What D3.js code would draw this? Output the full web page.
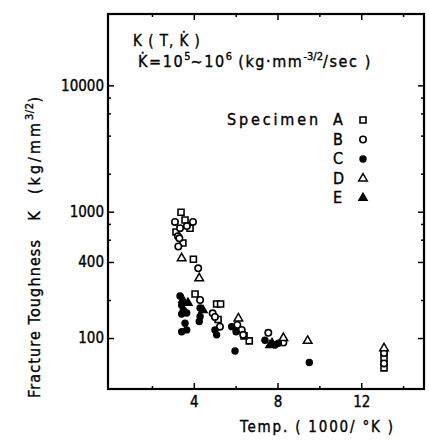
<!DOCTYPE html>
<html>
<head>
<meta charset="utf-8">
<script src="https://cdn.jsdelivr.net/npm/d3@7"></script>
<style>
body { margin: 0; background: #fff; }
text { font-family: "DejaVu Sans Condensed", "DejaVu Sans", sans-serif; fill: #000; stroke: #000; stroke-width: 0.35px; }
</style>
</head>
<body>
<script>
// data: [1000/T, K]
var specimenA = [[3.39,990],[3.58,860],[3.82,740],[3.15,690],[3.48,565],[3.98,420],[4.06,223],
  [5.09,186],[5.28,186],[5.16,140],[6.65,95],[6.4,104],[13.09,69],[13.09,58]];
var specimenB = [[3.1,830],[3.34,740],[3.67,770],[3.96,830],[3.24,640],[3.31,615],[3.26,530],
  [4.21,356],[4.30,200],[4.90,157],[5.01,147],[5.25,123],[6.08,127],[6.29,116],[6.36,106],
  [7.56,110],[8.28,92],[13.09,76],[13.09,63]];
var specimenC = [[3.34,215],[3.42,182],[3.50,166],[3.66,158],[3.42,155],[3.58,131],[3.42,112],
  [3.66,116],[4.30,173],[4.30,148],[4.26,135],[5.01,116],[5.09,106],[5.81,123],[6.02,112],
  [5.97,79],[7.40,96],[7.88,88],[8.04,91],[9.52,64]];
var specimenD = [[3.42,428],[4.26,297],[6.13,143],[8.28,100],[9.44,95],[13.09,83]];
var specimenE = [[3.48,200],[3.72,190],[4.44,166],[7.64,88],[7.74,91]];

var specimenNames = ["A","B","C","D","E"];
var xMajorTicks = [4, 8, 12];
var xMinorTicks = [2, 6, 10, 14];
var yLabelTicks = [100, 400, 1000, 10000];
var yMinorTicks = [200, 600, 800, 2000, 4000, 6000, 8000];

var W = 429, H = 440;
// plot frame (window.top is taken, so prefixed names)
var plotLeft = 108, plotRight = 424, plotTop = 14, plotBottom = 389;

var svg = d3.select("body").append("svg").attr("width", W).attr("height", H);

var x = d3.scaleLinear().domain([-0.1, 15]).range([plotLeft, plotRight]);
var y = d3.scaleLog().domain([39.5, 36700]).range([plotBottom, plotTop]);

// axes, ticks pointing inward on all sides
function styleAxis(g) {
  g.select(".domain").remove();
  g.selectAll("line").attr("stroke", "#000").attr("stroke-width", 1.5);
  g.selectAll("text").style("font-size", "15px").style("font-family", "'DejaVu Sans Condensed', sans-serif");
}

svg.append("g").attr("transform", "translate(0," + plotBottom + ")")
  .call(d3.axisBottom(x).tickValues(xMajorTicks).tickSize(-6).tickPadding(7).tickFormat(d3.format("d")))
  .call(styleAxis);
svg.append("g").attr("transform", "translate(0," + plotBottom + ")")
  .call(d3.axisBottom(x).tickValues(xMinorTicks).tickSize(-3).tickFormat(""))
  .call(styleAxis);
svg.append("g").attr("transform", "translate(0," + plotTop + ")")
  .call(d3.axisTop(x).tickValues(xMajorTicks).tickSize(-6).tickFormat(""))
  .call(styleAxis);
svg.append("g").attr("transform", "translate(0," + plotTop + ")")
  .call(d3.axisTop(x).tickValues(xMinorTicks).tickSize(-3).tickFormat(""))
  .call(styleAxis);

svg.append("g").attr("transform", "translate(" + plotLeft + ",0)")
  .call(d3.axisLeft(y).tickValues(yLabelTicks).tickSize(-6).tickPadding(4).tickFormat(d3.format("d")))
  .call(styleAxis);
svg.append("g").attr("transform", "translate(" + plotLeft + ",0)")
  .call(d3.axisLeft(y).tickValues(yMinorTicks).tickSize(-3).tickFormat(""))
  .call(styleAxis);
svg.append("g").attr("transform", "translate(" + plotRight + ",0)")
  .call(d3.axisRight(y).tickValues(yLabelTicks).tickSize(-6).tickFormat(""))
  .call(styleAxis);
svg.append("g").attr("transform", "translate(" + plotRight + ",0)")
  .call(d3.axisRight(y).tickValues(yMinorTicks).tickSize(-3).tickFormat(""))
  .call(styleAxis);

// frame
svg.append("rect")
  .attr("x", plotLeft).attr("y", plotTop)
  .attr("width", plotRight - plotLeft).attr("height", plotBottom - plotTop)
  .attr("fill", "none").attr("stroke", "#000").attr("stroke-width", 2.2);

// markers
var sq = d3.symbol().type(d3.symbolSquare).size(36)();
var tri = d3.symbol().type(d3.symbolTriangle).size(32)();

function drawMarker(g, name) {
  if (name == "A") g.append("path").attr("d", sq).attr("fill", "#fff").attr("stroke", "#000").attr("stroke-width", 1.6);
  if (name == "B") g.append("circle").attr("r", 3.2).attr("fill", "#fff").attr("stroke", "#000").attr("stroke-width", 1.6);
  if (name == "C") g.append("circle").attr("r", 3.7).attr("fill", "#000");
  if (name == "D") g.append("path").attr("d", tri).attr("fill", "#fff").attr("stroke", "#000").attr("stroke-width", 1.5);
  if (name == "E") g.append("path").attr("d", tri).attr("fill", "#000").attr("stroke", "#000").attr("stroke-width", 1.2);
}

var allSpecimens = [specimenA, specimenB, specimenC, specimenD, specimenE];
allSpecimens.forEach(function(pts, i) {
  pts.forEach(function(p) {
    var g = svg.append("g").attr("transform", "translate(" + x(p[0]) + "," + y(p[1]) + ")");
    drawMarker(g, specimenNames[i]);
  });
});

// legend
svg.append("text").attr("x", 227).attr("y", 125).style("font-size", "16px")
  .attr("textLength", 91).attr("lengthAdjust", "spacing").text("Specimen");
specimenNames.forEach(function(n, i) {
  var by = 125 + i * 19.5;
  svg.append("text").attr("x", 333).attr("y", by).style("font-size", "16px").text(n);
  var g = svg.append("g").attr("transform", "translate(363," + (by - 5) + ")");
  drawMarker(g, n);
});

// annotation
svg.append("text").attr("x", 133).attr("y", 46).style("font-size", "15px")
  .attr("xml:space", "preserve").style("letter-spacing", "1px").text("K ( T, K\u0307 )");
var t2 = svg.append("text").attr("x", 138).attr("y", 67).style("font-size", "16px")
  .style("letter-spacing", "1.6px").attr("xml:space", "preserve");
t2.append("tspan").text("K\u0307=10");
t2.append("tspan").attr("dy", -7).style("font-size", "11px").style("letter-spacing", "0px").text("5");
t2.append("tspan").attr("dy", 7).text("~10");
t2.append("tspan").attr("dy", -7).style("font-size", "11px").style("letter-spacing", "0px").text("6");
t2.append("tspan").attr("dy", 7).text(" (kg\u00b7mm");
t2.append("tspan").attr("dy", -7).style("font-size", "11px").style("letter-spacing", "0px").text("-3/2");
t2.append("tspan").attr("dy", 7).text("/sec )");

// axis titles
svg.append("text").attr("x", 240).attr("y", 432).style("font-size", "15px")
  .attr("xml:space", "preserve").attr("textLength", 153).attr("lengthAdjust", "spacing")
  .text("Temp. ( 1000/ \u00b0K )");

var yTitle = svg.append("g").attr("transform", "translate(40,0) rotate(-90)");
yTitle.append("text").attr("x", -398).attr("y", 0).style("font-size", "16px")
  .attr("textLength", 158).attr("lengthAdjust", "spacing").text("Fracture Toughness");
yTitle.append("text").attr("x", -216).attr("y", 0).style("font-size", "16px")
  .attr("text-anchor", "middle").text("K");
var yUnit = yTitle.append("text").attr("x", -194).attr("y", 0).style("font-size", "16px")
  .style("letter-spacing", "3px");
yUnit.append("tspan").text("(kg/mm");
yUnit.append("tspan").attr("dy", -7).style("font-size", "11px").style("letter-spacing", "0.5px").text("3/2");
yUnit.append("tspan").attr("dy", 7).text(")");
</script>
</body>
</html>
